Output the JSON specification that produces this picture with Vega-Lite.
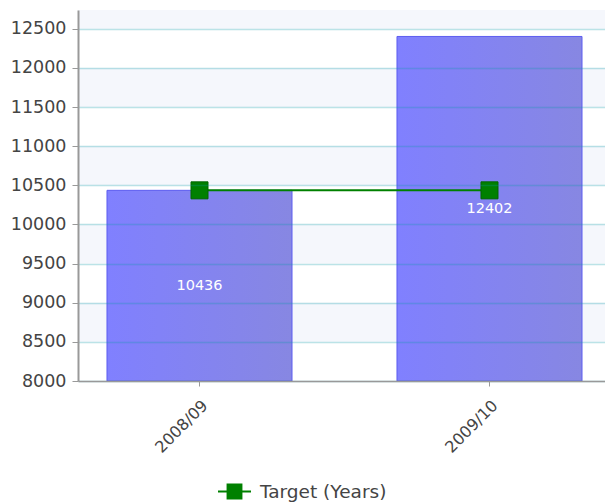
{
  "$schema": "https://vega.github.io/schema/vega-lite/v6.json",
  "autosize": "none",
  "width": 527,
  "height": 371,
  "padding": {"left": 78, "top": 10, "right": 0, "bottom": 123},
  "background": "white",
  "config": {
    "view": {"stroke": null},
    "font": "DejaVu Sans"
  },
  "datasets": {
    "bars": [
      {"year": "2008/09", "value": 10436, "target": 10436},
      {"year": "2009/10", "value": 12402, "target": 10436}
    ],
    "bands": [
      {"lo": 8500, "hi": 9000},
      {"lo": 9500, "hi": 10000},
      {"lo": 10500, "hi": 11000},
      {"lo": 11500, "hi": 12000},
      {"lo": 12500, "hi": 12740}
    ]
  },
  "encoding": {
    "x": {
      "field": "year", "type": "nominal",
      "scale": {"type": "band", "range": [0, 533], "paddingInner": 0.362, "paddingOuter": 0.1},
      "axis": {
        "title": null, "labelAngle": -45, "labelFontSize": 16, "labelColor": "#444",
        "domainColor": "#999", "domainWidth": 1.5, "tickColor": "#999", "tickSize": 5,
        "labelPadding": 11, "grid": false, "zindex": 1
      }
    }
  },
  "layer": [
    {
      "data": {"name": "bands"},
      "mark": {"type": "rect", "fill": "#f5f7fc"},
      "encoding": {
        "x": null,
        "y": {"field": "lo", "type": "quantitative"},
        "y2": {"field": "hi"}
      }
    },
    {
      "data": {"name": "bars"},
      "mark": {
        "type": "bar",
        "fill": {"gradient": "linear", "x1": 0, "x2": 1, "y1": 0, "y2": 0,
          "stops": [{"offset": 0, "color": "#8080ff"}, {"offset": 1, "color": "#8787e2"}]},
        "stroke": "#5c5cf0", "strokeWidth": 1
      },
      "encoding": {
        "y": {
          "field": "value", "type": "quantitative",
          "scale": {"domain": [8000, 12740], "nice": false, "zero": false},
          "axis": {
            "title": null, "values": [8000, 8500, 9000, 9500, 10000, 10500, 11000, 11500, 12000, 12500],
            "format": "d",
            "labelFontSize": 17.5, "labelColor": "#444", "labelPadding": 6,
            "domainColor": "#999", "domainWidth": 2, "tickColor": "#999", "tickSize": 6,
            "grid": true, "gridColor": "#0a9aa8", "gridOpacity": 0.28, "gridWidth": 1.5, "zindex": 1
          }
        },
        "y2": {"datum": 8000}
      }
    },
    {
      "data": {"name": "bars"},
      "mark": {
        "type": "text", "color": "white", "fontSize": 14.5, "baseline": "middle",
        "dy": {"expr": "(scale('y', 8000) - scale('y', datum.value)) / 2"}
      },
      "encoding": {
        "y": {"field": "value", "type": "quantitative"},
        "text": {"field": "value", "type": "quantitative", "format": "d"}
      }
    },
    {
      "data": {"name": "bars"},
      "mark": {"type": "line", "strokeWidth": 2, "color": "#1e8c1e"},
      "encoding": {
        "y": {"field": "target", "type": "quantitative"},
        "color": {
          "datum": "Target (Years)", "type": "nominal",
          "scale": {"range": ["#008000"]},
          "legend": {
            "title": null, "orient": "none", "legendX": 139, "legendY": 464,
            "symbolType": "M-1,0L1,0M-0.42,-0.42L0.42,-0.42L0.42,0.42L-0.42,0.42Z",
            "symbolSize": 1089, "symbolFillColor": "#008000", "symbolStrokeColor": "#008000",
            "symbolStrokeWidth": 2, "labelFontSize": 18.5, "labelColor": "#444", "labelOffset": 8
          }
        }
      }
    },
    {
      "data": {"name": "bars"},
      "mark": {"type": "point", "shape": "square", "size": 289, "filled": true, "fill": "#008000", "stroke": "#006600", "strokeWidth": 1, "opacity": 1},
      "encoding": {
        "y": {"field": "target", "type": "quantitative"}
      }
    }
  ]
}
